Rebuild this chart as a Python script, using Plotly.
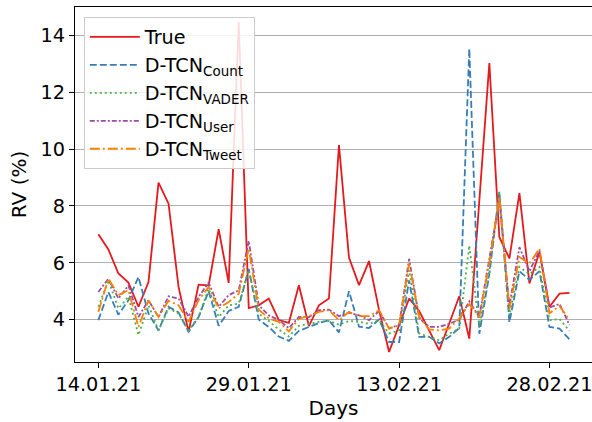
import pandas as pd
import plotly.graph_objects as go

start_date = "2021-01-14"
n_days = 48
dates = pd.date_range(start_date, periods=n_days)

true_rv = [7.0, 6.47, 5.62, 5.30, 4.45, 5.32, 8.82, 8.08, 5.15, 3.57,
           5.23, 5.2, 7.18, 5.29, 14.48, 4.4, 4.5, 4.74, 3.98, 3.88,
           5.21, 3.77, 4.5, 4.74, 10.14, 6.18, 5.21, 6.06, 4.33, 2.86,
           3.8, 4.74, 4.3, 3.6, 2.92, 3.86, 4.82, 3.33, 8.3, 13.03,
           6.9, 6.15, 8.45, 5.27, 6.38, 4.45, 4.91, 4.94]

count_rv = [3.98, 4.97, 4.17, 4.68, 5.5, 4.21, 3.62, 4.45, 4.25, 3.57,
            4.09, 5.0, 3.78, 4.3, 4.45, 5.78, 4.0, 3.74, 3.4, 3.25,
            3.6, 3.75, 3.88, 3.97, 3.55, 5.0, 3.75, 3.7, 4.0, 3.21,
            3.21, 5.38, 3.39, 3.39, 3.16, 3.39, 3.7, 13.54, 3.5, 5.6,
            8.5, 3.9, 5.7, 5.4, 5.7, 3.74, 3.68, 3.3]

vader_rv = [4.45, 5.38, 4.39, 4.8, 3.45, 4.5, 3.62, 4.39, 4.21, 3.62,
            4.09, 5.09, 4.09, 4.5, 4.56, 5.74, 4.2, 3.95, 3.65, 3.4,
            3.78, 3.86, 3.92, 3.95, 3.82, 3.95, 3.92, 3.85, 3.97, 3.51,
            3.62, 5.74, 3.51, 3.39, 3.27, 3.51, 3.68, 6.61, 3.74, 5.7,
            8.5, 4.15, 5.85, 5.6, 5.85, 3.98, 4.02, 3.6]

user_rv = [4.97, 5.44, 4.74, 5.2, 4.09, 4.68, 4.09, 4.82, 4.74, 4.1,
           4.8, 5.3, 4.45, 4.86, 5.03, 6.77, 4.5, 4.15, 3.98, 3.7,
           4.09, 4.08, 4.33, 4.35, 4.12, 4.24, 4.15, 3.98, 4.3, 3.7,
           3.8, 6.14, 4.05, 3.74, 3.74, 3.85, 4.0, 4.64, 4.09, 6.2,
           8.2, 4.48, 6.55, 5.7, 6.43, 4.42, 4.55, 3.8]

tweet_rv = [4.27, 5.44, 4.86, 5.03, 3.74, 4.68, 4.09, 4.66, 4.5, 3.92,
            4.68, 5.15, 4.39, 4.62, 4.91, 6.5, 4.35, 4.04, 3.92, 3.58,
            4.03, 4.12, 4.27, 4.33, 3.98, 4.27, 4.12, 4.12, 4.33, 3.68,
            3.8, 5.97, 4.1, 3.65, 3.62, 3.68, 4.04, 4.55, 4.09, 6.0,
            8.3, 4.36, 6.2, 5.97, 6.5, 4.22, 4.48, 3.98]

series_names = ["True", "D-TCN<sub>Count</sub>", "D-TCN<sub>VADER</sub>",
                "D-TCN<sub>User</sub>", "D-TCN<sub>Tweet</sub>"]
tick_dates = ["2021-01-14", "2021-01-29", "2021-02-13", "2021-02-28"]
tick_text = ["14.01.21", "29.01.21", "13.02.21", "28.02.21"]
y_ticks = [4, 6, 8, 10, 12, 14]

colors = ["#e41a1c", "#377eb8", "#4daf4a", "#984ea3", "#ff7f00"]
dashes = ["solid", "7px,3px", "2px,3px", "5px,2px,2px,2px", "10px,3px,2px,3px"]
values = [true_rv, count_rv, vader_rv, user_rv, tweet_rv]

fig = go.Figure()
for name, vals, c, d in zip(series_names, values, colors, dashes):
    fig.add_trace(go.Scatter(x=dates, y=vals, mode="lines", name=name,
                             line=dict(color=c, width=1.8, dash=d)))

FONT = "DejaVu Sans"
x0 = pd.Timestamp(start_date) - pd.Timedelta(days=2.33)
x1 = pd.Timestamp(start_date) + pd.Timedelta(days=49.24)

fig.update_layout(
    width=592, height=422,
    margin=dict(l=75, r=0, t=7, b=60, autoexpand=False),
    plot_bgcolor="white", paper_bgcolor="white",
    font=dict(family=FONT, color="black", size=18),
    showlegend=True,
    legend=dict(x=0.017, y=0.972, xanchor="left", yanchor="top",
                bgcolor="rgba(255,255,255,0.85)", bordercolor="#cccccc",
                borderwidth=1, itemwidth=50, font=dict(size=19.2, family=FONT)),
    xaxis=dict(range=[x0, x1], tickvals=pd.to_datetime(tick_dates), ticktext=tick_text,
               showgrid=False, showline=True, linecolor="black", linewidth=1.2,
               mirror=True, ticks="outside", ticklen=5, tickcolor="black",
               tickfont=dict(size=19.3), zeroline=False, ticklabeloverflow="allow",
               title=dict(text="Days", font=dict(size=20), standoff=4)),
    yaxis=dict(range=[2.505, 15.006], tickvals=y_ticks, showgrid=True,
               gridcolor="#b0b0b0", gridwidth=1.3, showline=True, linecolor="black",
               linewidth=1.2, ticks="outside", ticklen=5, tickcolor="black",
               tickfont=dict(size=19.3), zeroline=False,
               title=dict(text="RV (%)", font=dict(size=20), standoff=8)),
)

fig.write_html("out.html", config={"displayModeBar": False},
               post_script="document.body.style.margin='0px';document.body.style.padding='0px';")
